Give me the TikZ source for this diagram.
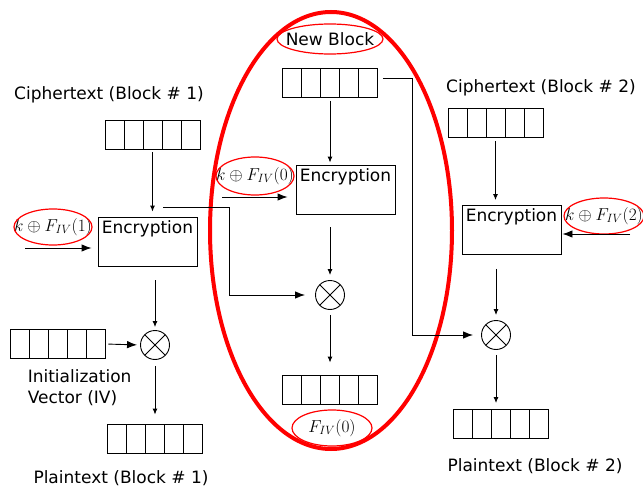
\documentclass[tikz,border=0pt]{standalone}
\usepackage{fontspec}
\newfontfamily\dejavu{DejaVu Sans}
\usetikzlibrary{arrows.meta,shapes.geometric}
\begin{document}
\begin{tikzpicture}[x=1pt,y=-1pt,line width=0.9pt,font=\dejavu\fontsize{17}{21}\selectfont,
    register/.style={draw,minimum width=95,minimum height=29,inner sep=0,
      path picture={\foreach \i in {1,...,4}
        \draw ([xshift=\i*19pt]path picture bounding box.south west)
          -- ([xshift=\i*19pt]path picture bounding box.north west);}},
    encbox/.style={draw,minimum width=99,minimum height=49,inner sep=0,
      label={[anchor=north,inner sep=3.5pt]north:Encryption}},
    xorop/.style={circle,draw,minimum size=29,inner sep=0,
      path picture={\draw (path picture bounding box.north west) -- (path picture bounding box.south east)
                          (path picture bounding box.north east) -- (path picture bounding box.south west);}},
    flow/.style={-{Latex[length=6pt,width=5pt]}},
    feed/.style={-{Latex[length=10pt,width=7.5pt]}},
    hl/.style={red,line width=1.2pt}]
  \useasboundingbox (0,0) rectangle (643,487);
  % the new block
  \draw[red,line width=4pt] (331,230.5) ellipse [x radius=121,y radius=218.5];
  \foreach \n/\x/\y in {ct1/152.5/134.5,iv/57.5/344,pt1/155/438.5,nb/330/83,%
                        fiv/329.5/389.5,ct2/495.5/122.5,pt2/500.5/424}
    \node[register] (\n) at (\x,\y) {};
  \node[encbox] (enc1) at (147.5,241.5) {};
  \node[encbox] (enc2) at (345.5,189.5) {};
  \node[encbox] (enc3) at (511.5,230) {};
  \node[xorop] (x1) at (155,345) {};
  \node[xorop] (x2) at (330,295) {};
  \node[xorop] (x3) at (496,335) {};
  \node (k1) at (53,227) {$k\oplus F_{IV}(1)$};
  \node (k0) at (255,176) {$k\oplus F_{IV}(0)$};
  \node (k2) at (604,216) {$k\oplus F_{IV}(2)$};
  \node (fivlbl) at (332,428) {$F_{IV}(0)$};
  \node (nblbl) at (330,39) {New Block};
  \foreach \n/\rx/\ry in {k1/39/18,k0/39/19,k2/40/18,fivlbl/40/18,nblbl/53/15}
    \draw[hl] (\n) ellipse [x radius=\rx,y radius=\ry];
  \node (ct1lbl) at (109,95) {Ciphertext (Block \# 1)};
  \node (ct2lbl) at (541,88) {Ciphertext (Block \# 2)};
  \node (ivlbl) [align=left,anchor=west] at (24,388) {Initialization\\Vector (IV)};
  \node (pt1lbl) at (121,478) {Plaintext (Block \# 1)};
  \node (pt2lbl) at (535,466) {Plaintext (Block \# 2)};
  % block 1
  \coordinate (k1in) at (25,248);
  \coordinate (tap1) at (163,207);
  \draw[flow,shorten <=3pt,shorten >=5pt] (ct1.south) -- (ct1.south |- enc1.north);
  \draw[feed,shorten >=6pt] (k1in) -- (k1in -| enc1.west);
  \draw[flow,shorten <=14pt,shorten >=3pt] (x1.north |- enc1.south) -- (x1.north);
  \draw[feed,shorten <=3pt,shorten >=3pt] (iv.east) -- (x1.west);
  \draw[flow,shorten <=6pt,shorten >=9pt] (x1.south) -- (pt1.north);
  \draw[feed,shorten >=10pt] (tap1) -- ++(66,0) |- (x2.west);
  % new block
  \coordinate (k0in) at (222,197);
  \draw[flow,shorten <=3pt,shorten >=2pt] (nb.south) -- (nb.south |- enc2.north);
  \draw[feed,shorten >=8pt] (k0in) -- (k0in -| enc2.west);
  \draw[flow,shorten <=13pt,shorten >=5pt] (x2.north |- enc2.south) -- (x2.north);
  \draw[flow,shorten <=5pt,shorten >=12pt] (x2.south) -- (x2.south |- fiv.north);
  \draw[feed,shorten >=8pt] ([shift={(5,-5)}]nb.east) -- ++(29,0) |- (x3.west);
  % block 2
  \coordinate (k2in) at (630,234);
  \draw[flow,shorten <=4pt,shorten >=5pt] (ct2.south) -- (ct2.south |- enc3.north);
  \draw[feed,shorten >=1pt] (k2in) -- (k2in -| enc3.east);
  \draw[flow,shorten <=14pt,shorten >=5pt] (x3.north |- enc3.south) -- (x3.north);
  \draw[flow,shorten <=5pt,shorten >=6pt] (x3.south) -- (x3.south |- pt2.north);
\end{tikzpicture}
\end{document}
